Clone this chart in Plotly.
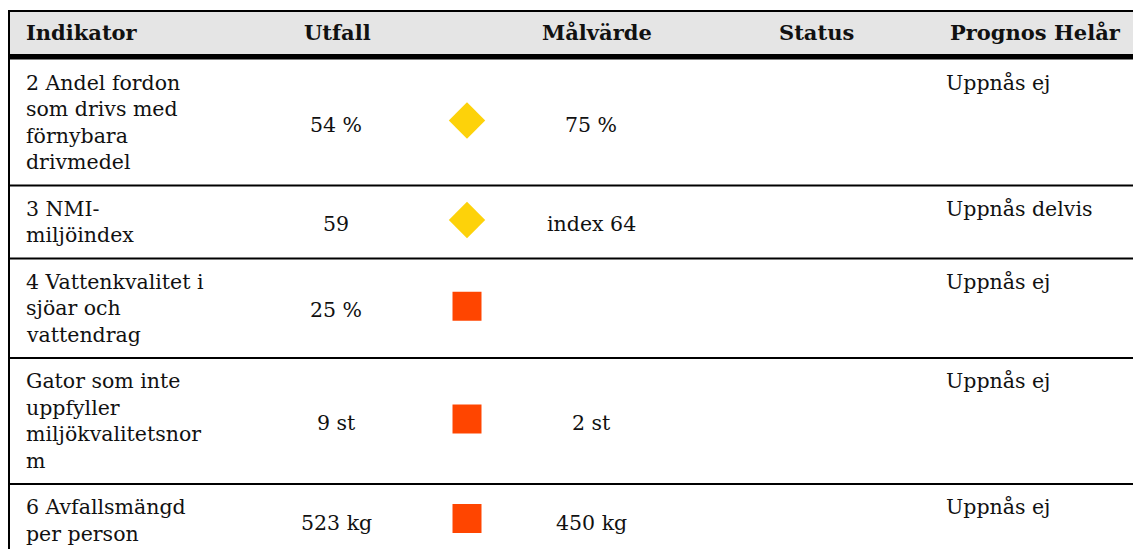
import plotly.graph_objects as go

# ---------------- data ----------------
headers = ["Indikator", "Utfall", "Målvärde", "Status", "Prognos Helår"]
indikator = [
    ["2 Andel fordon", "som drivs med", "förnybara", "drivmedel"],
    ["3 NMI-", "miljöindex"],
    ["4 Vattenkvalitet i", "sjöar och", "vattendrag"],
    ["Gator som inte", "uppfyller", "miljökvalitetsnor", "m"],
    ["6 Avfallsmängd", "per person"],
]
utfall = ["54 %", "59", "25 %", "9 st", "523 kg"]
status = ["gul", "gul", "röd", "röd", "röd"]
malvarde = ["75 %", "index 64", "", "2 st", "450 kg"]
prognos = ["Uppnås ej", "Uppnås delvis", "Uppnås ej", "Uppnås ej", "Uppnås ej"]

# ---------------- styling / layout ----------------
W, H = 1133, 549
FONT = "DejaVu Serif"
FS = 20.5
FS_HEAD = 21
TXT = "#111111"
symbol_of = {"gul": "diamond", "röd": "square"}
color_of = {"gul": "#FDD20A", "röd": "#FF4500"}
size_of = {"gul": 28, "röd": 29}

LEFT = 8
HEAD_TOP, HEAD_BOT = 11, 54
BODY_TOP = 59.5
PAD, LH = 10, 26.5

# header column anchors (x, anchor)
head_pos = [(24, "left"), (337, "center"), (597, "center"), (816, "center"), (1123, "right")]
X_IND, X_UTF, X_ICON, X_MAL, X_PROG = 24, 336, 467, 591, 944

# row geometry derived from number of text lines
tops, bots = [], []
y = BODY_TOP
for lines in indikator:
    tops.append(y)
    y += 2 * PAD + LH * len(lines)
    bots.append(y)
mids = [(t + b) / 2 for t, b in zip(tops, bots)]

fig = go.Figure()

# status icons
fig.add_trace(go.Scatter(
    x=[X_ICON] * len(status),
    y=[m - 2 for m in mids],
    mode="markers",
    marker=dict(
        symbol=[symbol_of[s] for s in status],
        color=[color_of[s] for s in status],
        size=[size_of[s] for s in status],
        opacity=1,
        line=dict(width=0),
    ),
    hoverinfo="skip",
    showlegend=False,
))

shapes = []
# header background
shapes.append(dict(type="rect", xref="x", yref="y", x0=LEFT, x1=W, y0=HEAD_TOP, y1=HEAD_BOT,
                   fillcolor="#E5E5E5", line=dict(width=0), layer="below"))
# top border
shapes.append(dict(type="line", xref="x", yref="y", x0=LEFT, x1=W, y0=HEAD_TOP, y1=HEAD_TOP,
                   line=dict(color="black", width=2)))
# thick header rule
shapes.append(dict(type="rect", xref="x", yref="y", x0=LEFT, x1=W, y0=HEAD_BOT, y1=BODY_TOP,
                   fillcolor="black", line=dict(width=0)))
# row separators
for b in bots[:-1]:
    shapes.append(dict(type="line", xref="x", yref="y", x0=LEFT, x1=W, y0=b, y1=b,
                       line=dict(color="black", width=2)))
# left border
shapes.append(dict(type="line", xref="x", yref="y", x0=LEFT + 1, x1=LEFT + 1, y0=HEAD_TOP, y1=H + 10,
                   line=dict(color="black", width=2)))

ann = []


def text(x, y, s, anchor="left", bold=False, size=FS):
    ann.append(dict(
        x=x, y=y, xref="x", yref="y", text=f"<b>{s}</b>" if bold else s,
        showarrow=False, xanchor=anchor, yanchor="middle",
        font=dict(family=FONT, size=size, color=TXT),
    ))


head_mid = (HEAD_TOP + HEAD_BOT) / 2
for (hx, anc), h in zip(head_pos, headers):
    text(hx, head_mid, h, anc, bold=True, size=FS_HEAD)

for i, lines in enumerate(indikator):
    for j, line in enumerate(lines):
        text(X_IND, tops[i] + PAD + LH * (j + 0.5), line, "left")
    text(X_UTF, mids[i] + 2, utfall[i], "center")
    if malvarde[i]:
        text(X_MAL, mids[i] + 2, malvarde[i], "center")
    text(X_PROG, tops[i] + PAD + LH * 0.5, prognos[i], "left")

fig.update_layout(
    width=W, height=H,
    margin=dict(l=0, r=0, t=0, b=0),
    paper_bgcolor="white", plot_bgcolor="white",
    xaxis=dict(range=[0, W], visible=False, fixedrange=True),
    yaxis=dict(range=[H, 0], visible=False, fixedrange=True),
    shapes=shapes, annotations=ann,
    showlegend=False,
)

fig.write_html("out.html", config={"displayModeBar": False},
               post_script="document.body.style.margin='0';document.body.style.overflow='hidden';")
